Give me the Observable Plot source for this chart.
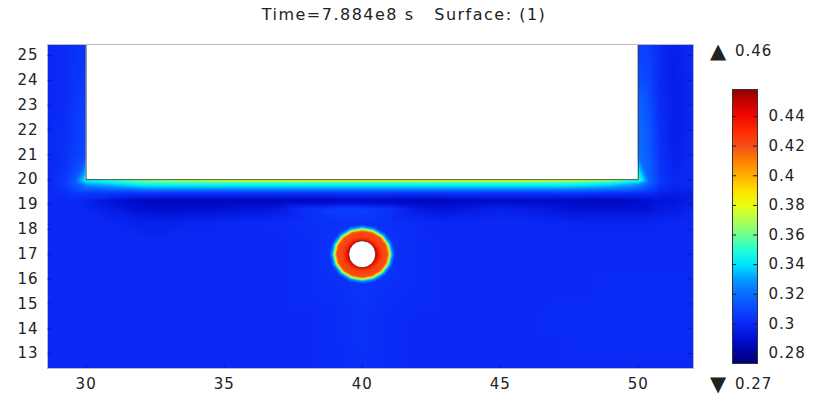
<!DOCTYPE html>
<html><head><meta charset="utf-8">
<script src="https://cdn.jsdelivr.net/npm/d3@7"></script>
<script src="https://cdn.jsdelivr.net/npm/@observablehq/plot@0.6"></script>
<style>
body{margin:0;background:#fff;}
#wrap{position:relative;width:815px;height:397px;overflow:hidden;font-family:"DejaVu Sans";color:#222;}
#title{position:absolute;top:5px;left:0;width:808px;text-align:center;font-size:16px;letter-spacing:1.5px;white-space:pre;}
#main{position:absolute;left:0;top:0;}
#bar{position:absolute;left:700px;top:0;}
.mm{position:absolute;font-size:15px;letter-spacing:1px;white-space:pre;line-height:18px;}
.tri{position:absolute;font-size:21px;line-height:18px;}
</style></head><body>
<div id="wrap">
<div id="main"></div><div id="bar"></div>
<div id="title">Time=7.884e8 s   Surface: (1)</div>
<div class="tri" style="left:710px;top:42px;">▲</div><div class="mm" style="left:735px;top:42px;">0.46</div>
<div class="tri" style="left:710px;top:375px;">▼</div><div class="mm" style="left:735px;top:375px;">0.27</div>
</div>
<script>
// ---- data ----
const xTicks = [30, 35, 40, 45, 50];
const yTicks = [13, 14, 15, 16, 17, 18, 19, 20, 21, 22, 23, 24, 25];
const cbTicks = [0.28, 0.3, 0.32, 0.34, 0.36, 0.38, 0.4, 0.42, 0.44];
const colorMax = 0.46, colorMin = 0.27;

// domain geometry
const domainX = [28.6, 52];
const domainY = [12.4, 25.44];
const rectHoles = [{x1: 30, x2: 50, y1: 20, y2: 25.44}];
const circleHoles = [{x: 40, y: 17}];

// sampled field (columns x, rows y from top to bottom)
const fieldX = [28.6, 29.2, 29.6, 30, 31, 32, 33, 34, 35, 36, 37, 38, 39, 40, 41, 42, 43, 44, 45, 46, 47, 48, 49, 50, 50.4, 50.8, 51.3, 52];
const fieldY = [25.44, 24, 23, 22, 21, 20, 19.87, 19.68, 19.45, 19.15, 18.8, 18.3, 17.5, 16.5, 15.5, 14.5, 13.5, 12.4];
const fieldRows = [
 [.300,.301,.303,.304, .300,.300,.300,.300,.300,.300,.300,.300,.300,.300,.300,.300,.300,.300,.300,.300,.300,.300,.300, .308,.307,.300,.297,.300],
 [.300,.301,.304,.305, .300,.300,.300,.300,.300,.300,.300,.300,.300,.300,.300,.300,.300,.300,.300,.300,.300,.300,.300, .312,.309,.300,.296,.300],
 [.300,.301,.305,.307, .300,.300,.300,.300,.300,.300,.300,.300,.300,.300,.300,.300,.300,.300,.300,.300,.300,.300,.300, .318,.312,.301,.296,.300],
 [.300,.302,.306,.309, .300,.300,.300,.300,.300,.300,.300,.300,.300,.300,.300,.300,.300,.300,.300,.300,.300,.300,.300, .320,.314,.302,.296,.300],
 [.300,.302,.307,.311, .300,.300,.300,.300,.300,.300,.300,.300,.300,.300,.300,.300,.300,.300,.300,.300,.300,.300,.300, .321,.315,.303,.297,.300],
 [.300,.305,.314, .345,.355,.365,.372,.378,.382,.385,.386,.387,.388,.388,.388,.387,.386,.386,.385,.384,.382,.378,.372,.355, .318,.305,.299,.300],
 [.300,.305,.315, .335,.342,.350,.352,.352,.352,.352,.352,.352,.352,.352,.352,.352,.352,.352,.352,.352,.352,.350,.345,.335, .317,.304,.299,.300],
 [.300,.304,.311, .320,.326,.332,.334,.334,.334,.334,.334,.334,.334,.334,.334,.334,.334,.334,.334,.334,.334,.332,.328,.320, .312,.302,.298,.300],
 [.300,.302,.305, .305,.304,.303,.303,.303,.303,.303,.303,.303,.303,.303,.303,.303,.303,.303,.303,.303,.303,.303,.302,.301, .300,.297,.295,.297],
 [.300,.300,.300, .298,.291,.286,.285,.285,.285,.285,.285,.285,.286,.286,.286,.285,.285,.287,.288,.288,.287,.286,.286,.288, .290,.292,.293,.296],
 [.300,.300,.300, .299,.295,.290,.289,.290,.291,.292,.295,.303,.307,.307,.304,.295,.292,.295,.297,.296,.293,.291,.291,.291, .292,.294,.295,.298],
 [.300,.300,.300, .300,.299,.297,.297,.298,.299,.300,.301,.302,.303,.303,.302,.301,.299,.300,.300,.300,.299,.298,.298,.298, .298,.299,.299,.300],
 [.300,.300,.300, .300,.300,.300,.300,.300,.300,.300,.300,.301,.302,.300,.302,.301,.300,.300,.300,.300,.300,.300,.300,.300, .300,.300,.300,.300],
 [.300,.300,.300, .300,.300,.300,.300,.300,.300,.300,.300,.301,.302,.300,.302,.301,.300,.300,.300,.300,.300,.300,.300,.300, .300,.300,.300,.300],
 [.300,.300,.300, .300,.300,.300,.300,.300,.300,.300,.300,.301,.302,.304,.302,.301,.300,.300,.300,.300,.300,.300,.301,.301, .301,.301,.301,.301],
 [.300,.300,.300, .300,.300,.300,.300,.300,.300,.300,.300,.300,.301,.303,.301,.300,.300,.300,.300,.300,.301,.301,.301,.301, .301,.301,.301,.301],
 [.300,.300,.300, .300,.300,.300,.300,.300,.300,.300,.300,.300,.301,.303,.301,.300,.300,.300,.300,.300,.300,.301,.301,.301, .301,.301,.301,.301],
 [.300,.300,.300, .300,.300,.300,.300,.300,.300,.300,.300,.300,.301,.302,.301,.300,.300,.300,.300,.300,.300,.300,.300,.300, .300,.300,.300,.300]
];

// ring of high values round the circular hole (polar samples)
const ringAngles = [0, 22.5, 45, 67.5, 90, 112.5, 135, 157.5, 180, 202.5, 225, 247.5, 270, 292.5, 315, 337.5];
const ringR = [0.5, 0.56, 0.7, 0.93, 1.0, 1.07, 1.2];
const ringV = [0.45, 0.438, 0.424, 0.42, 0.38, 0.335, 0.303];

// colour map stops
const cStops  = [0.27, 0.28, 0.29, 0.30, 0.31, 0.32, 0.33, 0.34, 0.35, 0.36, 0.37, 0.38, 0.39, 0.40, 0.41, 0.42, 0.43, 0.44, 0.45, 0.46];
const cColors = ["#000068","#00009c","#0010d2","#0a28f5","#0a48ff","#0a6cff","#009cff","#00e4ff","#20ffd2","#70ff90","#b0ff50","#e8ff10","#ffe000","#ffb000","#ff8000","#f55018","#ff2a00","#f50800","#c80000","#800000"];

// ---- build ----
const pts = [];
fieldY.forEach((y, i) => fieldX.forEach((x, j) => {
  const c = circleHoles[0];
  if (Math.hypot(x - c.x, y - c.y) >= 1.3) pts.push({x, y, v: fieldRows[i][j]});
}));
ringAngles.forEach(a => ringR.forEach((r, k) => {
  const c = circleHoles[0];
  pts.push({x: c.x + r * Math.cos(a * Math.PI / 180), y: c.y + r * Math.sin(a * Math.PI / 180), v: ringV[k]});
}));

const rect = rectHoles[0];
const rectOutline = [
  {x: rect.x1, y: rect.y2}, {x: rect.x1, y: rect.y1}, {x: rect.x2, y: rect.y1}, {x: rect.x2, y: rect.y2}
];

const colorOpt = {type: "linear", domain: cStops, range: cColors, clamp: true};
const W = 700, H = 397, mL = 47, mR = 7, mT = 44, mB = 29;
const fw = W - mL - mR, fh = H - mT - mB;

const main = Plot.plot({
  width: W, height: H, marginLeft: mL, marginRight: mR, marginTop: mT, marginBottom: mB,
  x: {domain: domainX}, y: {domain: domainY},
  color: colorOpt,
  style: {fontFamily: "DejaVu Sans", fontSize: "15px", color: "#222", background: "transparent", letterSpacing: "1px"},
  marks: [
    Plot.raster(pts, {x: "x", y: "y", fill: "v", interpolate: "barycentric", imageRendering: "auto"}),
    Plot.rect(rectHoles, {x1: "x1", x2: "x2", y1: "y1", y2: "y2", fill: "white"}),
    Plot.line(rectOutline, {x: "x", y: "y", stroke: "#333", strokeWidth: 0.8}),
    Plot.dot(circleHoles, {x: "x", y: "y", r: 13.5, fill: "white", stroke: "#4a1208", strokeWidth: 0.8}),
    Plot.frame({stroke: "#bcbcbc"}),
    Plot.tickY(yTicks, {y: d => d, insetRight: fw - 5, stroke: "#000", strokeOpacity: 0.3}),
    Plot.tickY(yTicks, {y: d => d, insetLeft: fw - 5, stroke: "#000", strokeOpacity: 0.3}),
    Plot.tickX(xTicks, {x: d => d, insetTop: fh - 5, stroke: "#000", strokeOpacity: 0.3}),
    Plot.axisX({ticks: xTicks, tickSize: 0, tickPadding: 10}),
    Plot.axisY({ticks: yTicks, tickSize: 0, tickPadding: 9})
  ]
});
document.getElementById("main").append(main);

const bW = 115, bL = 32, bR = 58, bT = 89, bB = 34;
const barLo = 0.2733, barHi = 0.4582;
const bar = Plot.plot({
  width: bW, height: H, marginLeft: bL, marginRight: bR, marginTop: bT, marginBottom: bB,
  x: {domain: [0, 1], axis: null}, y: {domain: [barLo, barHi]},
  color: colorOpt,
  style: {fontFamily: "DejaVu Sans", fontSize: "15px", color: "#222", background: "transparent", letterSpacing: "1px"},
  marks: [
    Plot.raster({x1: 0, x2: 1, y1: barLo, y2: barHi, fill: (x, y) => y, imageRendering: "auto"}),
    Plot.frame({stroke: "#333"}),
    Plot.tickY(cbTicks, {y: d => d, insetRight: 21, stroke: "#222"}),
    Plot.tickY(cbTicks, {y: d => d, insetLeft: 21, stroke: "#222"}),
    Plot.axisY({ticks: cbTicks, anchor: "right", tickSize: 0, tickPadding: 11, tickFormat: d => String(d)})
  ]
});
document.getElementById("bar").append(bar);
</script>
</body></html>
